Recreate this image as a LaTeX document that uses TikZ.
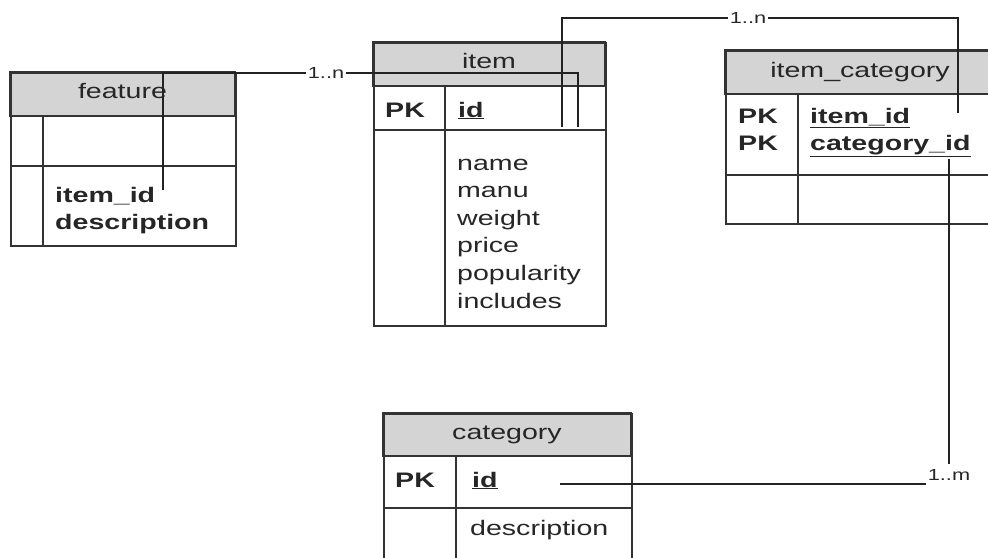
\documentclass[tikz,border=0pt]{standalone}
\usepackage{fontspec}
\setmainfont{Liberation Sans}
\newfontfamily\erfont{Liberation Sans}[FakeStretch=1.36]
\usetikzlibrary{calc}
\definecolor{hdrgray}{HTML}{D4D4D4}
\definecolor{linec}{HTML}{333333}
\definecolor{connc}{HTML}{222222}
\begin{document}
\begin{tikzpicture}[x=1pt,y=-1pt,
  tbl/.style={draw=linec, line width=1.8pt, inner sep=0pt, anchor=north west},
  hdr/.style={fill=hdrgray, draw=linec, line width=1.8pt},
  rowrule/.style={draw=linec, line width=1.8pt},
  conn/.style={draw=connc, line width=1.5pt},
  hdrtxt/.style={anchor=base, inner sep=0pt, text=black!85, font=\erfont\fontsize{21}{25}\selectfont},
  fld/.style={anchor=base west, inner sep=0pt, text=black!85, font=\erfont\fontsize{21}{25}\selectfont},
  key/.style={fld, font=\erfont\fontsize{21}{25}\selectfont\bfseries},
  card/.style={fill=white, inner xsep=1.5pt, inner ysep=1pt, text=black!85, font=\erfont\fontsize{16}{18}\selectfont}]
\useasboundingbox (0,0) rectangle (988,557);
\fill[white] (0,0) rectangle (988,557);

% ---- feature ----
\draw[hdr] (10,72) rectangle (235,116);
\node[tbl, minimum width=225pt, minimum height=173pt] (feature) at (10,72) {};
\draw[rowrule] (10,166) -- (235,166);
\draw[rowrule] (43,116) -- (43,245);
\node[hdrtxt] (featureT) at (122.5,98.5) {feature};
\node[key] (featureF1) at (55,202) {item\_id};
\node[key] (featureF2) at (55,229) {description};

% ---- item ----
\draw[hdr] (373,42) rectangle (605,86);
\node[tbl, minimum width=232pt, minimum height=283pt] (item) at (373,42) {};
\draw[rowrule] (373,130) -- (605,130);
\draw[rowrule] (445,86) -- (445,325);
\node[hdrtxt] (itemT) at (489,68.5) {item};
\node[key] (itemPK) at (385,117) {PK};
\node[key] (itemId) at (458,117) {\underline{id}};
\node[fld] (itemF1) at (457,170) {name};
\node[fld] (itemF2) at (457,197.6) {manu};
\node[fld] (itemF3) at (457,225.2) {weight};
\node[fld] (itemF4) at (457,252.8) {price};
\node[fld] (itemF5) at (457,280.4) {popularity};
\node[fld] (itemF6) at (457,308) {includes};

% ---- item_category ----
\draw[hdr] (725,50) rectangle (995,94);
\node[tbl, minimum width=270pt, minimum height=173pt] (itemcat) at (725,50) {};
\draw[rowrule] (725,175) -- (995,175);
\draw[rowrule] (798,94) -- (798,223);
\node[hdrtxt] (itemcatT) at (860,77) {item\_category};
\node[key] (itemcatPK1) at (738,123) {PK};
\node[key] (itemcatPK2) at (738,150) {PK};
\node[key] (itemcatF1) at (810,123) {\underline{item\_id}};
\node[key] (itemcatF2) at (810,150) {\underline{category\_id}};

% ---- category ----
\draw[hdr] (383,413) rectangle (631,456);
\node[tbl, minimum width=248pt, minimum height=180pt] (category) at (383,413) {};
\draw[rowrule] (383,508) -- (631,508);
\draw[rowrule] (456,456) -- (456,593);
\node[hdrtxt] (categoryT) at (507,439.5) {category};
\node[key] (categoryPK) at (395,487) {PK};
\node[key] (categoryId) at (472,487) {\underline{id}};
\node[fld] (categoryF1) at (470,535) {description};

% ---- relationship end points ----
\coordinate (featureFK) at (163,190);
\coordinate (itemEndA) at (578,127);
\coordinate (itemEndB) at (562,127);
\coordinate (itemcatEndA) at (958,113);
\coordinate (itemcatEndB) at (949,159);
\coordinate (categoryEnd) at (560,484);

% feature -- item
\draw[conn] (featureFK) -- ++(0,-117) -| (itemEndA);
\node[card] (card1) at (326,73) {1..n};

% item -- item_category
\draw[conn] (itemEndB) -- ++(0,-109) -| (itemcatEndA);
\node[card] (card2) at (748,18) {1..n};

% category -- item_category
\node[card, inner xsep=2pt, inner ysep=5pt, fill=none] (card3) at (949,475) {1..m};
\draw[conn] (categoryEnd) -- (categoryEnd -| card3.west);
\draw[conn] (itemcatEndB) -- (itemcatEndB |- card3.north);
\end{tikzpicture}
\end{document}
